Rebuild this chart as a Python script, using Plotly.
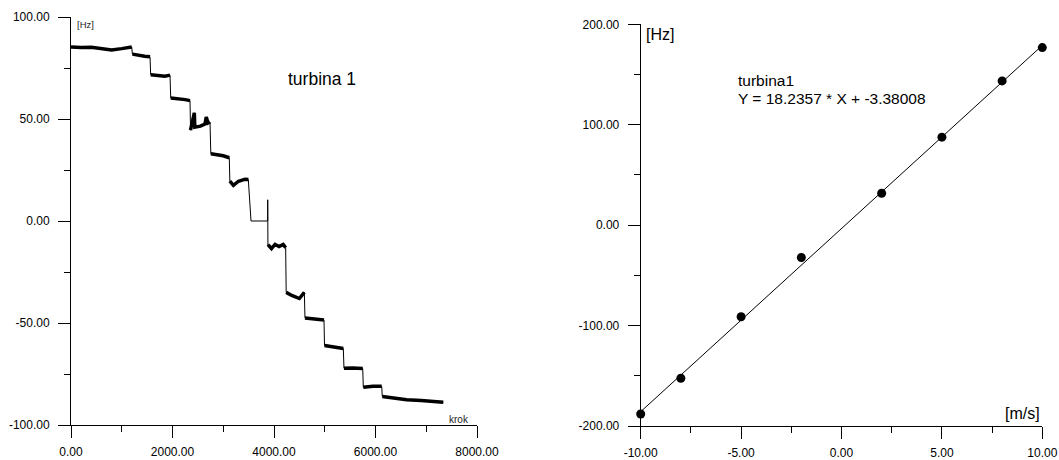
import plotly.graph_objects as go

# ---------------- data: left chart (turbina 1, frequency vs step) ----------------
krok_segments = [
    [0, 200, 400, 600, 800, 1000, 1100, 1196],
    [1210, 1350, 1450, 1557],
    [1570, 1700, 1850, 1951],
    [1965, 2100, 2250, 2345],
    [2355, 2430, 2440, 2550, 2640, 2665, 2700, 2739],
    [2755, 2900, 3000, 3119],
    [3130, 3200, 3300, 3429, 3494],
    [3547, 3876],
    [3876],
    [3880, 3950, 4020, 4100, 4180, 4230],
    [4240, 4350, 4500, 4598],
    [4610, 4800, 4985],
    [4995, 5200, 5366],
    [5379, 5550, 5748],
    [5760, 5950, 6122],
    [6134, 6400, 6614, 6900, 7100, 7336],
]
hz_segments = [
    [85.3, 85.0, 85.2, 84.3, 83.8, 84.5, 85.0, 85.3],
    [81.8, 81.0, 80.8, 80.5],
    [71.7, 71.5, 71.0, 71.5],
    [60.3, 60.0, 59.5, 59.0],
    [44.5, 53.0, 46.0, 46.5, 47.5, 51.0, 48.0, 48.5],
    [33.0, 32.5, 32.0, 31.0],
    [19.5, 17.5, 19.5, 20.5, 20.3],
    [0.0, 0.0],
    [10.4],
    [-11.6, -13.5, -11.5, -12.5, -11.5, -13.0],
    [-35.0, -36.5, -38.0, -35.0],
    [-47.5, -48.2, -48.5],
    [-61.0, -61.8, -62.5],
    [-72.2, -72.0, -72.3],
    [-81.5, -81.0, -81.0],
    [-86.0, -86.8, -87.6, -88.0, -88.2, -88.8],
]
left_x_ticks = [0, 2000, 4000, 6000, 8000]
left_y_ticks = [-100, -50, 0, 50, 100]

# ---------------- data: right chart (calibration) ----------------
speed_ms = [-10, -8, -5, -2, 2, 5, 8, 10]
freq_hz = [-188.0, -152.5, -91.2, -32.2, 31.8, 87.6, 143.6, 176.8]
fit_slope = 18.2357
fit_intercept = -3.38008
fit_x = [-10, 10]
right_x_ticks = [-10, -5, 0, 5, 10]
right_y_ticks = [-200, -100, 0, 100, 200]

# ---------------- build ----------------
W, H = 1059, 460
FONT = "Liberation Sans, Arial, sans-serif"

thin_x, thin_y, thick_x, thick_y = [], [], [], []
for xs, ys in zip(krok_segments, hz_segments):
    thin_x += xs
    thin_y += ys
    if len(xs) > 1 and any(v != 0 for v in ys):
        thick_x += xs + [None]
        thick_y += ys + [None]

fit_y = [fit_slope * v + fit_intercept for v in fit_x]

fig = go.Figure()
fig.add_trace(go.Scatter(x=thin_x, y=thin_y, mode="lines",
                         line=dict(color="black", width=1), xaxis="x", yaxis="y",
                         showlegend=False, hoverinfo="skip"))
fig.add_trace(go.Scatter(x=thick_x, y=thick_y, mode="lines",
                         line=dict(color="black", width=3.5), xaxis="x", yaxis="y",
                         showlegend=False, connectgaps=False))
fig.add_trace(go.Scatter(x=fit_x, y=fit_y, mode="lines",
                         line=dict(color="black", width=1), xaxis="x2", yaxis="y2",
                         showlegend=False, cliponaxis=False))
fig.add_trace(go.Scatter(x=speed_ms, y=freq_hz, mode="markers",
                         marker=dict(color="black", size=9), xaxis="x2", yaxis="y2",
                         showlegend=False, cliponaxis=False))


def fmt(v):
    return "%.2f" % v


def axis(domain, rng, ticks, minor_vals, anchor, standoff):
    return dict(
        domain=domain, range=rng, anchor=anchor,
        showgrid=False, zeroline=False, showline=True, linecolor="black", linewidth=1,
        ticks="outside", ticklen=12, tickwidth=1, tickcolor="black",
        tickmode="array", tickvals=ticks, ticktext=[fmt(v) for v in ticks],
        tickfont=dict(family=FONT, size=12, color="black"),
        ticklabelstandoff=standoff,
        minor=dict(ticks="outside", ticklen=6, tickwidth=1, tickcolor="black",
                   tickmode="array", tickvals=minor_vals, showgrid=False),
        automargin=False, fixedrange=True,
    )


lx0, lx1, ly_top, ly_bot = 71, 477, 17, 425
rx0, rx1, ry_top, ry_bot = 640.7, 1042.3, 24.3, 426

fig.update_layout(
    width=W, height=H,
    margin=dict(l=0, r=0, t=0, b=0),
    paper_bgcolor="white", plot_bgcolor="white",
    font=dict(family=FONT, color="black"),
    xaxis=axis([lx0 / W, lx1 / W], [0, 8000], left_x_ticks,
               [1000, 3000, 5000, 7000], "y", 4),
    yaxis=axis([(H - ly_bot) / H, (H - ly_top) / H], [-100, 100], left_y_ticks,
               [-75, -25, 25, 75], "x", 6),
    xaxis2=axis([rx0 / W, rx1 / W], [-10, 10], right_x_ticks,
                [-7.5, -2.5, 2.5, 7.5], "y2", 4),
    yaxis2=axis([(H - ry_bot) / H, (H - ry_top) / H], [-200, 200], right_y_ticks,
                [-150, -50, 50, 150], "x2", 6),
    showlegend=False,
)


def ann(text, x, y, size, xanchor="left", color="black"):
    fig.add_annotation(text=text, x=x / W, y=(H - y) / H, xref="paper", yref="paper",
                       xanchor=xanchor, yanchor="middle", showarrow=False,
                       font=dict(family=FONT, size=size, color=color))


ann("[Hz]", 75, 24, 9.5, color="#222222")
ann("krok", 471, 419, 10, xanchor="right", color="#222222")
ann("turbina 1", 286, 79, 17.5)
ann("[Hz]", 644, 34, 16)
ann("[m/s]", 1042, 413, 16, xanchor="right")
ann("turbina1", 736, 80, 15.5)
ann("Y = 18.2357 * X + -3.38008", 736, 98, 15.5)

fig.write_html("out.html", config={"displayModeBar": False},
               post_script="document.body.style.margin='0';document.body.style.overflow='hidden';")
